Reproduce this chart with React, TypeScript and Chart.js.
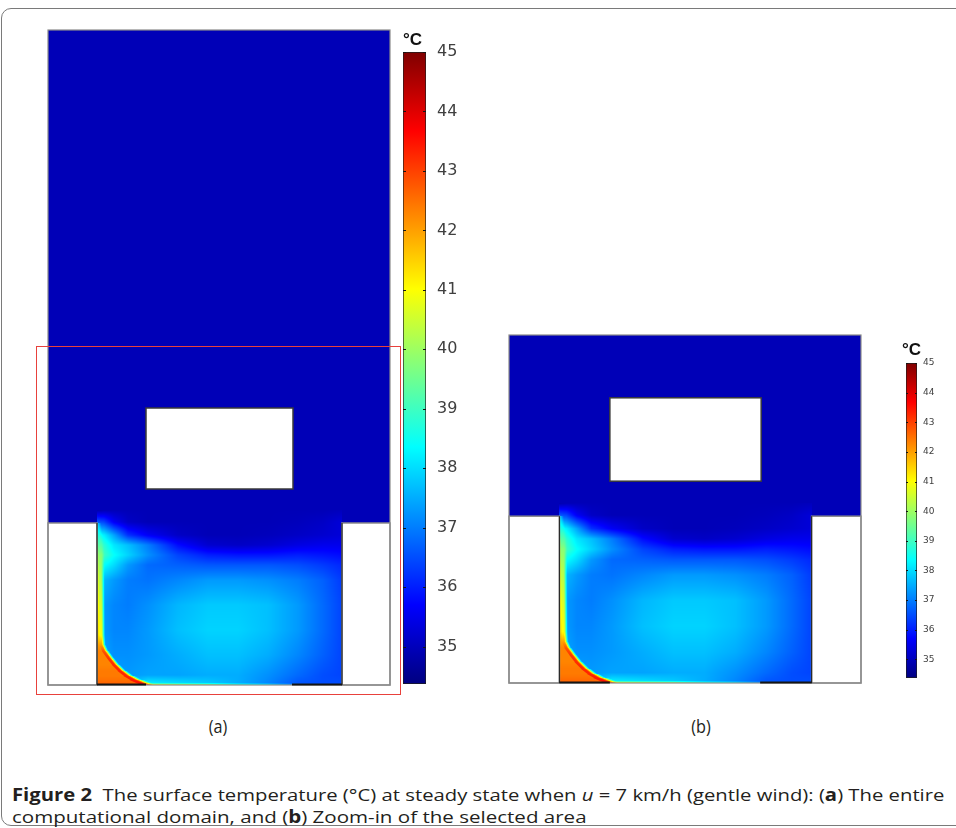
import React, { useEffect, useLayoutEffect, useRef, useState } from "react";
import { Chart, registerables } from "chart.js";

Chart.register(...registerables);

// ---------------- data ----------------
const T_MIN = 34.37;
const T_MAX = 45;
const COLORBAR_TICKS = [35, 36, 37, 38, 39, 40, 41, 42, 43, 44, 45];
const AMBIENT_T = 34.95;

// geometry (domain units)
const DOMAIN_X = [0, 3.42];
const DOMAIN_Y_FULL = [0, 6.55];
const DOMAIN_Y_ZOOM = [0, 3.38];
const OBSTACLE = [0.98, 2.45, 1.96, 2.77]; // x0, x1, y0, y1
const BLOCK_LEFT = [0, 0.49, 0, 1.62];
const BLOCK_RIGHT = [2.94, 3.42, 0, 1.62];
const GROUND_LEFT = [0.49, 0.98];
const GROUND_RIGHT = [2.44, 2.94];

// air temperature in the cavity (°C)
const POOL_X = [0.49, 0.56, 0.66, 0.8, 1.0, 1.3, 1.6, 1.9, 2.2, 2.5, 2.75, 2.94];
const POOL_Y = [0, 0.02, 0.1, 0.3, 0.55, 0.8, 1.05, 1.2, 1.3, 1.4, 1.5, 1.63, 1.75];
const POOL_T = [
  [37.5, 37.5, 37.5, 38.5, 41.5, 41.0, 40.5, 39.2, 38.4, 37.0, 36.6, 36.6],
  [37.5, 37.5, 37.4, 37.5, 38.2, 38.0, 37.8, 37.5, 37.1, 36.6, 36.5, 36.5],
  [37.6, 37.5, 37.4, 37.3, 37.4, 37.4, 37.5, 37.5, 37.2, 36.8, 36.5, 36.4],
  [37.6, 37.4, 37.2, 37.2, 37.3, 37.5, 37.7, 37.7, 37.5, 37.1, 36.7, 36.4],
  [37.6, 37.3, 37.1, 37.1, 37.3, 37.7, 37.9, 37.9, 37.7, 37.3, 36.8, 36.4],
  [37.6, 37.3, 37.1, 37.0, 37.2, 37.6, 37.8, 37.8, 37.7, 37.3, 36.8, 36.4],
  [37.8, 37.6, 37.3, 37.0, 36.9, 37.1, 37.3, 37.3, 37.2, 37.0, 36.7, 36.3],
  [38.8, 38.4, 38.0, 37.3, 36.8, 36.7, 36.6, 36.6, 36.6, 36.5, 36.3, 36.1],
  [39.8, 39.0, 38.4, 37.9, 37.2, 36.4, 36.0, 35.9, 35.9, 36.0, 35.9, 35.8],
  [39.5, 38.8, 38.1, 37.7, 37.0, 35.8, 35.2, 35.1, 35.2, 35.4, 35.5, 35.5],
  [38.5, 38.2, 37.4, 36.2, 35.6, 35.1, 34.95, 34.95, 35.0, 35.1, 35.2, 35.3],
  [36.6, 36.4, 35.6, 35.1, 34.95, 34.95, 34.95, 34.95, 34.95, 35.0, 35.1, 35.3],
  [34.8, 34.9, 34.95, 34.95, 34.95, 34.95, 34.95, 34.95, 34.95, 34.95, 34.95, 35.0],
];

// hot boundary layer on the heated wall: edge position, core and rim temperature by height
const HOT_Y = [0, 0.02, 0.05, 0.09, 0.14, 0.2, 0.27, 0.34, 0.4, 0.5, 0.8, 1.1, 1.3, 1.45, 1.62];
const HOT_EDGE_X = [0.975, 0.93, 0.86, 0.79, 0.725, 0.665, 0.61, 0.56, 0.535, 0.53, 0.528, 0.525, 0.525, 0.515, 0.49];
const HOT_CORE_T = [42.8, 42.6, 42.5, 42.4, 42.4, 42.3, 42.3, 42.3, 42.0, 41.3, 41.0, 40.6, 40.0, 39.5, 37.8];
const HOT_RIM_T = [43.5, 43.5, 43.4, 43.3, 43.3, 43.2, 43.1, 42.8, 42.0, 41.0, 40.6, 40.2, 39.8, 39.0, 37.8];

// ---------------- helpers ----------------
const clamp = (v: number, a: number, b: number) => Math.max(a, Math.min(b, v));
const smooth = (t: number) => {
  const u = clamp(t, 0, 1);
  return u * u * (3 - 2 * u);
};

function jetRGB(t: number): [number, number, number] {
  const r = clamp(Math.min(4 * t - 1.5, -4 * t + 4.5), 0, 1);
  const g = clamp(Math.min(4 * t - 0.5, -4 * t + 3.5), 0, 1);
  const b = clamp(Math.min(4 * t + 0.5, -4 * t + 2.5), 0, 1);
  return [Math.round(r * 255), Math.round(g * 255), Math.round(b * 255)];
}
const tempRGB = (T: number) => jetRGB(clamp((T - T_MIN) / (T_MAX - T_MIN), 0, 1));

function samplePool(x: number, y: number): number {
  const nx = POOL_X.length, ny = POOL_Y.length;
  if (x < POOL_X[0] || x > POOL_X[nx - 1] || y < POOL_Y[0] || y > POOL_Y[ny - 1]) return AMBIENT_T;
  let i = 0;
  while (i < nx - 2 && x > POOL_X[i + 1]) i++;
  let j = 0;
  while (j < ny - 2 && y > POOL_Y[j + 1]) j++;
  const fx = (x - POOL_X[i]) / (POOL_X[i + 1] - POOL_X[i]);
  const fy = (y - POOL_Y[j]) / (POOL_Y[j + 1] - POOL_Y[j]);
  const a = POOL_T[j][i], b = POOL_T[j][i + 1], c = POOL_T[j + 1][i], d = POOL_T[j + 1][i + 1];
  return a * (1 - fx) * (1 - fy) + b * fx * (1 - fy) + c * (1 - fx) * fy + d * fx * fy;
}

const RIM_W = 0.012;
const BAND_W = 0.045;

function sampleT(x: number, y: number): number {
  const pool = samplePool(x, y);
  const n = HOT_Y.length;
  if (y < HOT_Y[0] || y > HOT_Y[n - 1] || x < BLOCK_LEFT[1] || x > 1.2) return pool;
  let k = 0;
  while (k < n - 2 && y > HOT_Y[k + 1]) k++;
  const f = (y - HOT_Y[k]) / (HOT_Y[k + 1] - HOT_Y[k]);
  const ex = HOT_EDGE_X[k] + (HOT_EDGE_X[k + 1] - HOT_EDGE_X[k]) * f;
  const core = HOT_CORE_T[k] + (HOT_CORE_T[k + 1] - HOT_CORE_T[k]) * f;
  const rim = HOT_RIM_T[k] + (HOT_RIM_T[k + 1] - HOT_RIM_T[k]) * f;
  const slope = (HOT_EDGE_X[k + 1] - HOT_EDGE_X[k]) / (HOT_Y[k + 1] - HOT_Y[k]);
  const d = (x - ex) / Math.sqrt(1 + slope * slope);
  if (d >= BAND_W) return pool;
  if (d >= 0) return rim + (pool - rim) * smooth(d / BAND_W);
  const inner = -d;
  if (inner < RIM_W) return rim;
  return rim + (core - rim) * smooth((inner - RIM_W) / RIM_W);
}

const fieldPlugin = {
  id: "field",
  beforeDatasetsDraw(chart: any) {
    const { ctx, chartArea: a, scales } = chart;
    const xs = scales.x, ys = scales.y;
    const w = Math.round(a.right - a.left), h = Math.round(a.bottom - a.top);
    const off = document.createElement("canvas");
    off.width = w;
    off.height = h;
    const octx = off.getContext("2d")!;
    const img = octx.createImageData(w, h);
    const xv = new Float64Array(w);
    for (let px = 0; px < w; px++) xv[px] = xs.getValueForPixel(a.left + px + 0.5);
    for (let py = 0; py < h; py++) {
      const yv = ys.getValueForPixel(a.top + py + 0.5);
      for (let px = 0; px < w; px++) {
        const [r, g, b] = tempRGB(sampleT(xv[px], yv));
        const k = (py * w + px) * 4;
        img.data[k] = r;
        img.data[k + 1] = g;
        img.data[k + 2] = b;
        img.data[k + 3] = 255;
      }
    }
    octx.putImageData(img, 0, 0);
    ctx.save();
    ctx.drawImage(off, a.left, a.top);

    const box = (r: number[]) => {
      const x0 = xs.getPixelForValue(r[0]), x1 = xs.getPixelForValue(r[1]);
      const y0 = ys.getPixelForValue(r[2]), y1 = ys.getPixelForValue(Math.min(r[3], ys.max));
      return [x0, y1, x1 - x0, y0 - y1];
    };
    for (const r of [BLOCK_LEFT, BLOCK_RIGHT, OBSTACLE]) {
      const [x, y, bw, bh] = box(r);
      ctx.fillStyle = "#ffffff";
      ctx.fillRect(x, y, bw, bh);
    }
    ctx.lineWidth = 1.5;
    ctx.strokeStyle = "#8c8c8c";
    for (const r of [BLOCK_LEFT, BLOCK_RIGHT]) {
      const [x, y, bw, bh] = box(r);
      ctx.strokeRect(x, y, bw, bh);
    }
    ctx.lineWidth = 1.2;
    ctx.strokeStyle = "#8a8a8a";
    ctx.strokeRect(a.left, a.top, a.right - a.left, a.bottom - a.top);
    {
      const [x, y, bw, bh] = box(OBSTACLE);
      ctx.lineWidth = 1.5;
      ctx.strokeStyle = "#3a3a3a";
      ctx.strokeRect(x, y, bw, bh);
    }
    ctx.strokeStyle = "#2b2b2b";
    ctx.lineWidth = 1.2;
    for (const xw of [BLOCK_LEFT[1], BLOCK_RIGHT[0]]) {
      ctx.beginPath();
      ctx.moveTo(xs.getPixelForValue(xw), ys.getPixelForValue(0));
      ctx.lineTo(xs.getPixelForValue(xw), ys.getPixelForValue(BLOCK_LEFT[3]));
      ctx.stroke();
    }
    ctx.strokeStyle = "#151515";
    ctx.lineWidth = 2;
    for (const g of [GROUND_LEFT, GROUND_RIGHT]) {
      ctx.beginPath();
      ctx.moveTo(xs.getPixelForValue(g[0]), ys.getPixelForValue(0) - 0.5);
      ctx.lineTo(xs.getPixelForValue(g[1]), ys.getPixelForValue(0) - 0.5);
      ctx.stroke();
    }
    ctx.restore();
  },
};

function makeField(canvas: HTMLCanvasElement, yRange: number[]) {
  return new Chart(canvas, {
    type: "scatter",
    data: { datasets: [] },
    options: {
      responsive: false,
      animation: false,
      events: [],
      layout: { padding: 4 },
      plugins: { legend: { display: false }, tooltip: { enabled: false } },
      scales: {
        x: { type: "linear", min: DOMAIN_X[0], max: DOMAIN_X[1], display: false },
        y: { type: "linear", min: yRange[0], max: yRange[1], display: false },
      },
    } as any,
    plugins: [fieldPlugin as any],
  });
}

function jetGradient(chart: any) {
  const { ctx, chartArea, scales } = chart;
  if (!chartArea || !scales.y) return "#0000ff";
  const y = scales.y;
  const g = ctx.createLinearGradient(0, y.getPixelForValue(T_MIN), 0, y.getPixelForValue(T_MAX));
  for (let i = 0; i <= 64; i++) {
    const t = i / 64;
    const [r, gg, b] = jetRGB(t);
    g.addColorStop(t, `rgb(${r},${gg},${b})`);
  }
  return g;
}

const colorbarDecor = {
  id: "cbarDecor",
  afterDatasetsDraw(chart: any, _args: any, opts: any) {
    const { ctx, chartArea: a, scales } = chart;
    const y = scales.y;
    ctx.save();
    ctx.strokeStyle = "#151515";
    ctx.lineWidth = 1;
    for (const v of COLORBAR_TICKS) {
      const py = Math.round(y.getPixelForValue(v)) + 0.5;
      ctx.beginPath();
      ctx.moveTo(a.left, py);
      ctx.lineTo(a.left + opts.tickLen, py);
      ctx.moveTo(a.right - opts.tickLen, py);
      ctx.lineTo(a.right, py);
      ctx.stroke();
    }
    ctx.fillStyle = "#111";
    ctx.font = `bold ${opts.unitSize}px "Liberation Sans", Arial, sans-serif`;
    ctx.textBaseline = "alphabetic";
    ctx.textAlign = "left";
    ctx.fillText("°C", a.left + opts.unitDx, a.top - opts.unitDy);
    ctx.restore();
  },
};

function makeColorbar(canvas: HTMLCanvasElement, cfg: any) {
  return new Chart(canvas, {
    type: "bar",
    data: {
      labels: ["T"],
      datasets: [
        {
          data: [[T_MIN, T_MAX]] as any,
          backgroundColor: (c: any) => jetGradient(c.chart),
          borderColor: "#1e1e1e",
          borderWidth: 1,
          borderSkipped: false,
          barPercentage: 1,
          categoryPercentage: 1,
        },
      ],
    },
    options: {
      responsive: false,
      animation: false,
      events: [],
      layout: { padding: cfg.padding },
      plugins: { legend: { display: false }, tooltip: { enabled: false }, cbarDecor: cfg.decor },
      scales: {
        x: { display: false },
        y: {
          type: "linear",
          position: "right",
          min: T_MIN,
          max: T_MAX,
          grid: { display: false, drawTicks: false },
          border: { display: false },
          afterBuildTicks: (s: any) => {
            s.ticks = COLORBAR_TICKS.map((v) => ({ value: v }));
          },
          afterFit: (s: any) => {
            s.width = cfg.axisWidth;
            s.paddingTop = 0;
            s.paddingBottom = 0;
          },
          ticks: {
            padding: cfg.labelPad,
            color: "#404040",
            font: { family: '"DejaVu Sans", Verdana, sans-serif', size: cfg.fontSize },
          },
        },
      },
    } as any,
    plugins: [colorbarDecor as any],
  });
}

const CB_A = {
  padding: { left: 5, right: 0, top: 28, bottom: 6 },
  axisWidth: 44,
  labelPad: 11,
  fontSize: 16,
  decor: { tickLen: 3, unitDx: 0, unitDy: 7, unitSize: 17 },
};
const CB_B = {
  padding: { left: 8, right: 0, top: 31, bottom: 6 },
  axisWidth: 30,
  labelPad: 6,
  fontSize: 9,
  decor: { tickLen: 2, unitDx: -4, unitDy: 8, unitSize: 17 },
};

function FitLine({ left, top, target, children }: any) {
  const ref = useRef<HTMLDivElement>(null);
  const [k, setK] = useState(1);
  useLayoutEffect(() => {
    const measure = () => {
      const el = ref.current;
      if (!el) return;
      const w = el.offsetWidth;
      if (w > 0) setK(target / w);
    };
    measure();
    (document as any).fonts?.ready?.then(measure);
  }, [target]);
  return (
    <div
      ref={ref}
      style={{
        position: "absolute",
        left,
        top,
        whiteSpace: "nowrap",
        fontFamily: '"Open Sans", "Noto Sans", sans-serif',
        fontSize: 17,
        lineHeight: "22px",
        color: "#231f20",
        transformOrigin: "left top",
        transform: `scaleX(${k})`,
      }}
    >
      {children}
    </div>
  );
}

export default function App() {
  const faRef = useRef<HTMLCanvasElement>(null);
  const fbRef = useRef<HTMLCanvasElement>(null);
  const caRef = useRef<HTMLCanvasElement>(null);
  const cbRef = useRef<HTMLCanvasElement>(null);

  useEffect(() => {
    const charts = [
      makeField(faRef.current!, DOMAIN_Y_FULL),
      makeField(fbRef.current!, DOMAIN_Y_ZOOM),
      makeColorbar(caRef.current!, CB_A),
      makeColorbar(cbRef.current!, CB_B),
    ];
    return () => charts.forEach((c) => c.destroy());
  }, []);

  const abs = (l: number, t: number): React.CSSProperties => ({ position: "absolute", left: l, top: t });
  const panelLabel: React.CSSProperties = {
    position: "absolute",
    top: 715,
    fontFamily: '"Open Sans", "Noto Sans", sans-serif',
    fontSize: 18,
    lineHeight: "22px",
    color: "#231f20",
    transform: "translateX(-50%) scaleX(0.9)",
  };

  return (
    <div style={{ position: "fixed", left: 0, top: 0, width: 956, height: 828, overflow: "hidden", background: "#fff" }}>
      <div
        style={{
          position: "absolute",
          left: 1,
          top: 8,
          width: 1000,
          height: 818,
          border: "1.5px solid #7a7a7a",
          borderRadius: 10,
          boxSizing: "border-box",
        }}
      />
      <canvas ref={faRef} width={350} height={663} style={abs(44, 26)} />
      <canvas ref={caRef} width={72} height={666} style={abs(398, 24)} />
      <canvas ref={fbRef} width={360} height={356} style={abs(505, 331)} />
      <canvas ref={cbRef} width={49} height={352} style={abs(898, 332)} />
      <div
        style={{
          position: "absolute",
          left: 36,
          top: 346,
          width: 365,
          height: 349,
          border: "1.5px solid #e8413c",
          boxSizing: "border-box",
        }}
      />
      <div style={{ ...panelLabel, left: 218 }}>(a)</div>
      <div style={{ ...panelLabel, left: 701 }}>(b)</div>
      <FitLine left={12} top={784} target={932}>
        <b>Figure 2</b>
        {"\u00a0\u00a0The surface temperature (°C) at steady state when "}
        <i>u</i>
        {" = 7 km/h (gentle wind): ("}
        <b>a</b>
        {") The entire"}
      </FitLine>
      <FitLine left={12} top={806} target={575}>
        {"computational domain, and ("}
        <b>b</b>
        {") Zoom-in of the selected area"}
      </FitLine>
    </div>
  );
}
